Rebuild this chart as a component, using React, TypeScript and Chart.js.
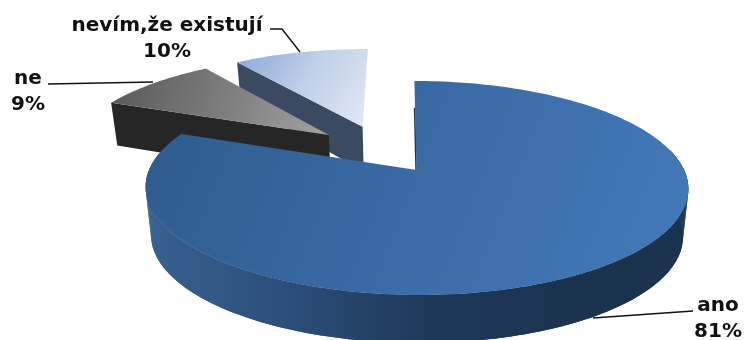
import React, { useEffect, useRef } from "react";
import { Chart, registerables } from "chart.js";

Chart.register(...registerables);

const categories = ["ano", "ne", "nevím,že existují"];
const shares = [81, 9, 10];

// Slice explosion in chart pixels, handed to the pie's `offset` option.
const explodePx = [34.4, 40.7, 40.4];

// Top faces and walls, listed in the same order as the categories.
const topStops = [
  ["#2e5a8c", "#3a6ba5", "#4479ba"],
  ["#585858", "#7c7c7c", "#a2a2a2"],
  ["#8aa8d5", "#c0d0e8", "#e2e9f4"],
];
const wallStops = [
  ["#376191", "#2c4f7b", "#1f3a5c", "#1c3350", "#1c3350"],
  ["#262626", "#262626", "#262626", "#262626", "#262626"],
  ["#3b4a60", "#3b4a60", "#3b4a60", "#3b4a60", "#3b4a60"],
];

const labelFont = 'bold 20px "DejaVu Sans", sans-serif';

// Perspective applied to the flat pie: unit-disc coordinates go to the screen.
const view = { cx: 416.5, cy: 170, rx: 267.5, ry: 104, k: 0.168, lean: -15, depth: 48, taper: 0.02 };
// Where the undisturbed pie centre sits relative to the vanishing-plane origin.
const planeShift = { u: -0.129, v: 0.19 };

type Pt = { x: number; y: number; s: number };

function project(u: number, v: number): Pt {
  const s = 1 / (1 + view.k * v);
  return { x: view.cx + view.rx * u * s + view.lean * (1 - s), y: view.cy - view.ry * v * s, s };
}

function lower(p: Pt): Pt {
  return {
    x: view.cx + (p.x - view.cx) * (1 - view.taper),
    y: p.y + view.depth * Math.min(1, p.s),
    s: p.s,
  };
}

function tracePath(ctx: CanvasRenderingContext2D, pts: Pt[]) {
  ctx.beginPath();
  pts.forEach((p, i) => (i ? ctx.lineTo(p.x, p.y) : ctx.moveTo(p.x, p.y)));
  ctx.closePath();
}

function ramp(
  ctx: CanvasRenderingContext2D,
  x0: number,
  y0: number,
  x1: number,
  y1: number,
  stops: string[],
) {
  const g = ctx.createLinearGradient(x0, y0, x1, y1);
  stops.forEach((c, i) => g.addColorStop(i / (stops.length - 1), c));
  return g;
}

function drawSlice(ctx: CanvasRenderingContext2D, arc: any, index: number) {
  const { x, y, startAngle, endAngle, outerRadius } = arc.getProps(
    ["x", "y", "startAngle", "endAngle", "outerRadius"],
    true,
  );
  const mid = (startAngle + endAngle) / 2;
  const off = arc.options.offset || 0;
  const ox = x + Math.cos(mid) * off;
  const oy = y + Math.sin(mid) * off;
  const toScreen = (px: number, py: number) =>
    project((px - x) / outerRadius + planeShift.u, -(py - y) / outerRadius + planeShift.v);

  const steps = Math.max(12, Math.round((endAngle - startAngle) * 40));
  const rim: Pt[] = [];
  const front: Pt[] = [];
  for (let i = 0; i <= steps; i++) {
    const a = startAngle + ((endAngle - startAngle) * i) / steps;
    const p = toScreen(ox + Math.cos(a) * outerRadius, oy + Math.sin(a) * outerRadius);
    rim.push(p);
    if (-Math.sin(a) < 0.2) front.push(p);
  }
  const apex = toScreen(ox, oy);
  const top = [apex, ...rim];
  const xs = top.map((p) => p.x);
  const ys = top.map((p) => p.y);
  const minX = Math.min(...xs);
  const maxX = Math.max(...xs);
  const minY = Math.min(...ys);
  const maxY = Math.max(...ys);

  ctx.fillStyle = ramp(ctx, minX, 0, maxX, 0, wallStops[index]);
  if (front.length > 1) {
    tracePath(ctx, [...front, ...front.slice().reverse().map(lower)]);
    ctx.fill();
    // Sweeping the rim down closes the silhouette where the wall turns away.
    for (let i = 1; i < front.length; i++) {
      tracePath(ctx, [front[i - 1], front[i], lower(front[i]), lower(front[i - 1])]);
      ctx.fill();
    }
  }
  // Only the radial wall turned towards the viewer is painted.
  if (Math.cos(startAngle) < -1e-3) {
    tracePath(ctx, [apex, rim[0], lower(rim[0]), lower(apex)]);
    ctx.fill();
  } else {
    // Edge-on wall: it reads as a thin dark seam along the cut.
    const from = rim[0];
    ctx.strokeStyle = wallStops[index][4];
    ctx.lineWidth = 1.5;
    ctx.beginPath();
    ctx.moveTo(from.x + (apex.x - from.x) * 0.3 - 0.5, from.y + (apex.y - from.y) * 0.3);
    ctx.lineTo(apex.x - 0.5, apex.y);
    ctx.stroke();
  }

  ctx.fillStyle = ramp(ctx, minX, minY, maxX, maxY, topStops[index]);
  tracePath(ctx, top);
  ctx.fill();
}

const pie3d = {
  id: "pie3d",
  beforeDatasetsDraw(chart: any) {
    const arcs = chart.getDatasetMeta(0).data;
    const ctx = chart.ctx as CanvasRenderingContext2D;
    ctx.save();
    // Painted back to front so the large slice overlaps the exploded ones.
    [2, 1, 0].forEach((i) => drawSlice(ctx, arcs[i], i));
    ctx.restore();
    return false;
  },
};

// Callouts: each has its text block and a leader line.
const callouts = [
  { index: 0, x: 718, y: 311, line: [[593, 318], [693, 311]] },
  { index: 1, x: 28, y: 84, line: [[48, 84], [153, 82]] },
  { index: 2, x: 167, y: 31, line: [[270, 29], [282, 29], [300, 52]] },
];

const calloutPlugin = {
  id: "callouts",
  afterDraw(chart: any) {
    const ctx = chart.ctx as CanvasRenderingContext2D;
    ctx.save();
    ctx.strokeStyle = "#111111";
    ctx.lineWidth = 1.4;
    ctx.fillStyle = "#111111";
    ctx.font = labelFont;
    ctx.textBaseline = "alphabetic";
    ctx.textAlign = "center";
    callouts.forEach((c) => {
      ctx.beginPath();
      c.line.forEach(([x, y], i) => (i ? ctx.lineTo(x, y) : ctx.moveTo(x, y)));
      ctx.stroke();
      ctx.fillText(categories[c.index], c.x, c.y);
      ctx.fillText(`${shares[c.index]}%`, c.x, c.y + 26);
    });
    ctx.restore();
  },
};

export default function App() {
  const ref = useRef<HTMLCanvasElement>(null);

  useEffect(() => {
    document.body.style.margin = "0";
    document.body.style.background = "#ffffff";
    const chart = new Chart(ref.current!, {
      type: "pie",
      data: {
        labels: categories,
        datasets: [
          {
            data: shares,
            offset: explodePx,
            borderWidth: 0,
            backgroundColor: topStops.map((s) => s[1]),
          },
        ],
      },
      options: {
        responsive: false,
        animation: false,
        layout: { padding: 0 },
        plugins: { legend: { display: false }, tooltip: { enabled: false } },
      },
      plugins: [pie3d, calloutPlugin],
    } as any);
    return () => chart.destroy();
  }, []);

  return <canvas ref={ref} width={745} height={340} style={{ display: "block" }} />;
}
